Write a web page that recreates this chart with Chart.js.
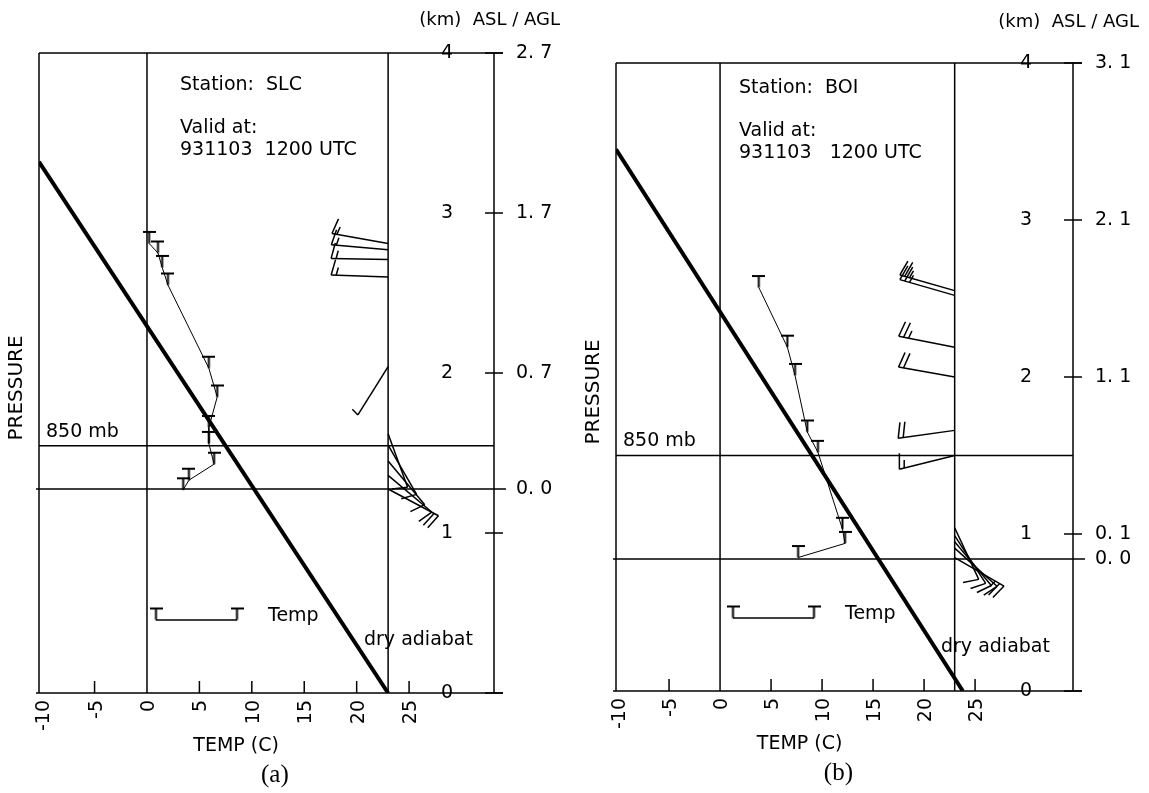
<!DOCTYPE html>
<html>
<head>
<meta charset="utf-8">
<script src="https://cdn.jsdelivr.net/npm/chart.js@4.4.1/dist/chart.umd.min.js"></script>
<style>
  html, body { margin: 0; padding: 0; background: #fff; }
  #wrap { position: relative; width: 1149px; height: 793px; background: #fff; }
  canvas { position: absolute; top: 0; }
</style>
</head>
<body>
<div id="wrap">
  <canvas id="panel_a" width="574" height="793" style="left:0px"></canvas>
  <canvas id="panel_b" width="575" height="793" style="left:574px"></canvas>
</div>
<script>
// ticks
var temp_ticks = [-10, -5, 0, 5, 10, 15, 20, 25];
var asl_ticks = [4, 3, 2, 1, 0];

// (a) SLC, height in km ASL
var slc_temp   = [0.2, 1.05, 1.45, 2.0, 5.9, 6.7, 5.9, 5.9, 6.4, 4.0, 3.45];
var slc_height = [2.81, 2.75, 2.66, 2.55, 2.03, 1.85, 1.66, 1.56, 1.43, 1.33, 1.27];
var slc_adiabat_temp = [23, -10.3];
var slc_adiabat_height = [0, 3.32];
var slc_agl = ['2. 7', '1. 7', '0. 7', '', ''];
var slc_ground = 1.275;
var slc_850 = 1.545;
var slc_wind_height = [2.81, 2.77, 2.71, 2.60, 2.04, 1.62, 1.55, 1.45, 1.36, 1.275];
var slc_wind_dir    = [280, 275, 271, 272, 212, 160, 150, 140, 130, 118];
var slc_wind_speed  = [15, 15, 15, 15, 5, 10, 10, 10, 10, 20];

// (b) BOI
var boi_temp   = [3.8, 6.6, 7.35, 8.55, 9.6, 12.0, 12.25, 7.65];
var boi_height = [2.57, 2.19, 2.01, 1.65, 1.52, 1.03, 0.94, 0.85];
var boi_adiabat_temp = [23.8, -10.2];
var boi_adiabat_height = [0, 3.45];
var boi_agl = ['3. 1', '2. 1', '1. 1', '0. 1', ''];
var boi_ground = 0.84;
var boi_850 = 1.50;
var boi_wind_height = [2.55, 2.52, 2.19, 2.00, 1.66, 1.50, 1.04, 0.99, 0.95, 0.91, 0.85];
var boi_wind_dir    = [286, 286, 281, 280, 262, 256, 155, 147, 140, 132, 120];
var boi_wind_speed  = [25, 25, 25, 20, 20, 15, 10, 10, 10, 10, 25];

var FONT = '"DejaVu Sans", sans-serif';
var BARB_LEN = 57;

function seg(ctx, x0, y0, x1, y1) {
    ctx.beginPath();
    ctx.moveTo(x0, y0);
    ctx.lineTo(x1, y1);
    ctx.stroke();
}

function label(ctx, s, x, y, align, size, font) {
    ctx.font = size + 'px ' + (font || FONT);
    ctx.textAlign = align;
    ctx.textBaseline = 'middle';
    ctx.fillText(s, x, y);
}

// "T" marker: bar on top, stem down to the data point
function make_t_marker() {
    var c = document.createElement('canvas');
    c.width = 13; c.height = 27;
    var g = c.getContext('2d');
    g.strokeStyle = '#000';
    g.lineWidth = 2;
    g.beginPath();
    g.moveTo(0, 2); g.lineTo(13, 2);
    g.moveTo(6.5, 2); g.lineTo(6.5, 13.5);
    g.stroke();
    return c;
}
var t_marker = make_t_marker();

function draw_barb(ctx, x0, y0, dir, speed) {
    var rad = dir * Math.PI / 180;
    var dx = Math.sin(rad), dy = -Math.cos(rad);
    var x1 = x0 + BARB_LEN * dx, y1 = y0 + BARB_LEN * dy;
    seg(ctx, x0, y0, x1, y1);
    var fx = -dy - 0.25 * dx, fy = dx - 0.25 * dy;
    var n = Math.sqrt(fx * fx + fy * fy);
    fx /= n; fy /= n;
    var full = Math.floor(speed / 10);
    var half = Math.round((speed - full * 10) / 5);
    var pos = 0;
    for (var i = 0; i < full; i++) {
        var sx = x1 - pos * dx, sy = y1 - pos * dy;
        seg(ctx, sx, sy, sx + 16 * fx, sy + 16 * fy);
        pos += 5;
    }
    if (half) {
        var hx = x1 - pos * dx, hy = y1 - pos * dy;
        seg(ctx, hx, hy, hx + 8 * fx, hy + 8 * fy);
    }
}

function sounding_plugin(p) {
    return {
        id: 'sounding_' + p.name,
        beforeDatasetsDraw: function(chart) {
            var ctx = chart.ctx, xs = chart.scales.x, ys = chart.scales.y;
            var L = xs.left, R = xs.right, T = ys.top, B = ys.bottom;
            ctx.save();
            ctx.strokeStyle = '#000';
            ctx.lineWidth = 1.5;
            seg(ctx, L, T, R + 9, T);
            seg(ctx, L, T, L, B);
            seg(ctx, L - 3, B, R + 9, B);
            seg(ctx, R, T, R, B);
            asl_ticks.forEach(function(z) {
                var y = ys.getPixelForValue(z);
                seg(ctx, R - 9, y, R + 9, y);
            });
            [0, 23].forEach(function(t) {
                var x = xs.getPixelForValue(t);
                seg(ctx, x, T, x, B);
            });
            var y850 = ys.getPixelForValue(p.level850);
            seg(ctx, L, y850, R, y850);
            var yg = ys.getPixelForValue(p.ground);
            seg(ctx, L - 3, yg, R + 12, yg);
            temp_ticks.forEach(function(t) {
                if (t === -10 || t === 0) return;
                var x = xs.getPixelForValue(t);
                seg(ctx, x, B, x, B - 12);
            });
            ctx.restore();
        },
        afterDatasetsDraw: function(chart) {
            var ctx = chart.ctx, xs = chart.scales.x, ys = chart.scales.y;
            var L = xs.left, R = xs.right, T = ys.top, B = ys.bottom;
            ctx.save();
            ctx.fillStyle = '#000';
            ctx.strokeStyle = '#000';

            // wind barbs on the 23 C line
            ctx.lineWidth = 1.5;
            var xb = xs.getPixelForValue(23);
            for (var i = 0; i < p.windH.length; i++) {
                draw_barb(ctx, xb, ys.getPixelForValue(p.windH[i]), p.windD[i], p.windS[i]);
            }

            // x tick labels, rotated
            temp_ticks.forEach(function(t) {
                ctx.save();
                ctx.translate(xs.getPixelForValue(t) + 2, B + 7);
                ctx.rotate(-Math.PI / 2);
                label(ctx, String(t), 0, 0, 'right', 19);
                ctx.restore();
            });
            label(ctx, 'TEMP (C)', xs.getPixelForValue(p.titleT), B + 53, 'center', 19);
            label(ctx, p.caption, xs.getPixelForValue(p.captionT), B + 82, 'center', 25, '"Liberation Serif", serif');

            ctx.save();
            ctx.translate(L - 22, p.pressY);
            ctx.rotate(-Math.PI / 2);
            label(ctx, 'PRESSURE', 0, 0, 'center', 20);
            ctx.restore();

            // height axis
            asl_ticks.forEach(function(z, i) {
                var y = ys.getPixelForValue(z);
                label(ctx, String(z), R - 47, y, 'center', 19);
                if (p.agl[i]) label(ctx, p.agl[i], R + 22, y, 'left', 19);
            });
            label(ctx, '0. 0', R + 22, ys.getPixelForValue(p.ground), 'left', 19);
            label(ctx, '(km)  ASL / AGL', R + 66, p.kmY, 'right', 18);

            label(ctx, '850 mb', L + 7, ys.getPixelForValue(p.level850) - 14, 'left', 19);
            label(ctx, 'Station:  ' + p.station, p.textX, p.textY, 'left', 19);
            label(ctx, 'Valid at:', p.textX, p.textY + 43, 'left', 19);
            label(ctx, p.valid, p.textX, p.textY + 65, 'left', 19);

            // legend
            var ly = B - 73;
            ctx.lineWidth = 1.5;
            seg(ctx, L + 117, ly, L + 198, ly);
            ctx.drawImage(t_marker, L + 117 - 6.5, ly - 13.5);
            ctx.drawImage(t_marker, L + 198 - 6.5, ly - 13.5);
            label(ctx, 'Temp', L + 229, ly - 4, 'left', 19);
            label(ctx, 'dry adiabat', L + 325, p.dryY, 'left', 19);
            ctx.restore();
        }
    };
}

function make_sounding(id, p) {
    var profile = p.temp.map(function(t, i) { return {x: t, y: p.height[i]}; });
    var adiabat = p.adT.map(function(t, i) { return {x: t, y: p.adH[i]}; });
    return new Chart(document.getElementById(id), {
        type: 'scatter',
        data: {
            datasets: [{
                data: profile,
                showLine: true,
                borderColor: '#000',
                borderWidth: 1,
                pointStyle: t_marker,
                pointRadius: 6,
                tension: 0
            }, {
                data: adiabat,
                showLine: true,
                borderColor: '#000',
                borderWidth: 4,
                pointRadius: 0,
                tension: 0
            }]
        },
        options: {
            responsive: false,
            animation: false,
            devicePixelRatio: 1,
            events: [],
            layout: { padding: p.pad },
            plugins: { legend: { display: false }, tooltip: { enabled: false } },
            scales: {
                x: { type: 'linear', min: p.xmin, max: p.xmax, display: false },
                y: { type: 'linear', min: 0, max: 4, display: false }
            }
        },
        plugins: [sounding_plugin(p)]
    });
}

make_sounding('panel_a', {
    name: 'a', station: 'SLC', valid: '931103  1200 UTC', caption: '(a)',
    temp: slc_temp, height: slc_height, adT: slc_adiabat_temp, adH: slc_adiabat_height,
    agl: slc_agl, ground: slc_ground, level850: slc_850,
    windH: slc_wind_height, windD: slc_wind_dir, windS: slc_wind_speed,
    pad: { left: 39, right: 80, top: 53, bottom: 100 }, xmin: -10.3, xmax: 33.1,
    titleT: 8.5, captionT: 12.2, pressY: 388, kmY: 20, textX: 180, textY: 85, dryY: 640
});

make_sounding('panel_b', {
    name: 'b', station: 'BOI', valid: '931103   1200 UTC', caption: '(b)',
    temp: boi_temp, height: boi_height, adT: boi_adiabat_temp, adH: boi_adiabat_height,
    agl: boi_agl, ground: boi_ground, level850: boi_850,
    windH: boi_wind_height, windD: boi_wind_dir, windS: boi_wind_speed,
    pad: { left: 42, right: 76, top: 63, bottom: 102 }, xmin: -10.2, xmax: 34.6,
    titleT: 7.8, captionT: 11.6, pressY: 392, kmY: 22, textX: 165, textY: 88, dryY: 647
});
</script>
</body>
</html>
